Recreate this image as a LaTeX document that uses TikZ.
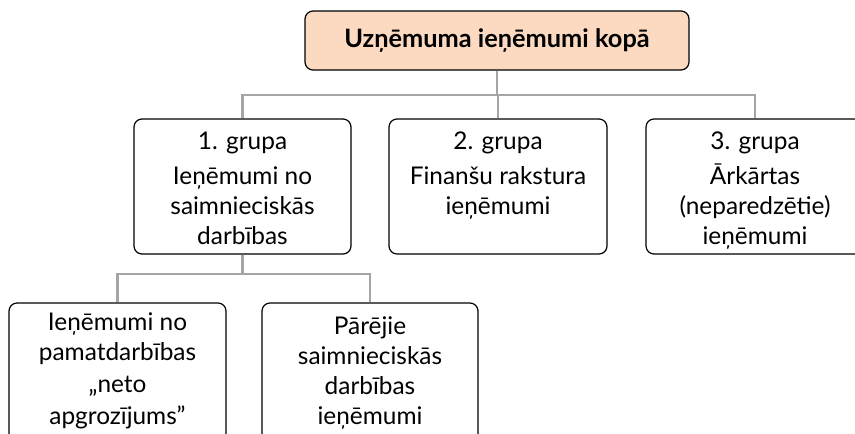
\documentclass[tikz,border=0pt]{standalone}
\usepackage{fontspec}
\setmainfont{Lato}
\definecolor{peach}{HTML}{FBDAC1}
\definecolor{conn}{HTML}{A5A5A5}
\newcommand{\firstline}{\rule{0pt}{14pt}}
\begin{document}
\begin{tikzpicture}[x=0.75pt,y=-0.75pt,
  box/.style={draw=black, line width=0.9pt, rounded corners=6pt, inner sep=0pt},
  txt/.style={anchor=north, align=center, inner sep=0pt, outer sep=0pt, font=\fontsize{18.3}{22.5}\selectfont},
  link/.style={draw=conn, line width=1.9pt}]
\useasboundingbox (0,0) rectangle (855,433);
\clip (0,0) rectangle (855,433);
% top
\node[box, fill=peach, minimum width=384*0.75pt, minimum height=59*0.75pt] (top) at (497,40.5)
  {\fontsize{19}{20}\selectfont\bfseries Uzņēmuma ieņēmumi kopā};
% level 1 boxes
\node[box, minimum width=217*0.75pt, minimum height=135*0.75pt] (g1) at (242.5,186.5) {};
\node[box, minimum width=218*0.75pt, minimum height=135*0.75pt] (g2) at (498,186.5) {};
\node[box, minimum width=218*0.75pt, minimum height=135*0.75pt] (g3) at (755,186.5) {};
\node[txt] (t1) at ([yshift=-9.6pt]g1.north) {\firstline 1. grupa\\[3.7pt]Ieņēmumi no\\saimnieciskās\\darbības};
\node[txt] (t2) at ([yshift=-9.6pt]g2.north) {\firstline 2. grupa\\[3.7pt]Finanšu rakstura\\ieņēmumi};
\node[txt] (t3) at ([yshift=-9.6pt]g3.north) {\firstline 3. grupa\\[3.7pt]Ārkārtas\\(neparedzētie)\\ieņēmumi};
% level 2 boxes
\node[box, minimum width=217*0.75pt, minimum height=150*0.75pt] (s1) at (117.5,378) {};
\node[box, minimum width=216*0.75pt, minimum height=150*0.75pt] (s2) at (370,378) {};
\node[txt] (u1) at ([yshift=-7.4pt]s1.north) {\firstline Ieņēmumi no\\pamatdarbības\\[1pt]„neto\\[1.3pt]apgrozījums”};
\node[txt] (u2) at ([yshift=-10pt]s2.north) {\firstline Pārējie\\saimnieciskās\\darbības\\ieņēmumi};
% connectors
\coordinate (h1) at (497,95);
\coordinate (h2) at (242.5,274);
\draw[link] (top.south) -- (h1);
\draw[link] (g1.north) |- (h1) -| (g3.north);
\draw[link] (g2.north) -- (g2.north |- h1);
\draw[link] (g1.south) -- (h2);
\draw[link] (s1.north) |- (h2) -| (s2.north);
\end{tikzpicture}
\end{document}
